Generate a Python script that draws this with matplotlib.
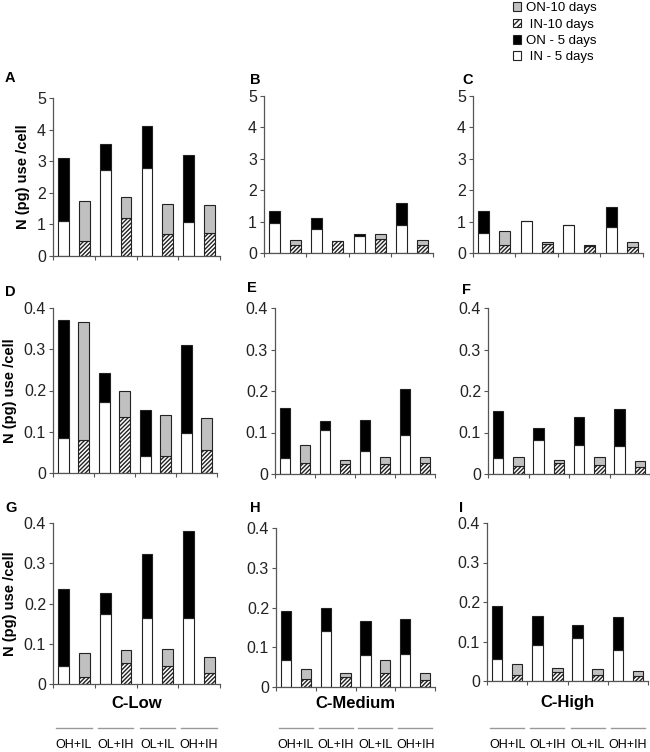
import matplotlib
matplotlib.use("Agg")
import matplotlib.pyplot as plt
import matplotlib.transforms as mtransforms
from matplotlib.patches import Patch
import numpy as np

plt.rcParams['font.family'] = ['Liberation Sans', 'DejaVu Sans']
plt.rcParams['hatch.linewidth'] = 1.0

groups = ["OH+IL", "OL+IH", "OL+IL", "OH+IH"]
columns = ["C-Low", "C-Medium", "C-High"]
panel_labels = ["A", "B", "C", "D", "E", "F", "G", "H", "I"]

# Segment heights per panel: IN-5 (bottom) / ON-5 (top), IN-10 (bottom) / ON-10 (top)
A_in5 = [1.11, 2.71, 2.77, 1.08]; A_on5 = [1.98, 0.82, 1.33, 2.12]
A_in10 = [0.48, 1.19, 0.70, 0.74]; A_on10 = [1.27, 0.67, 0.94, 0.88]
B_in5 = [0.94, 0.77, 0.53, 0.90]; B_on5 = [0.41, 0.33, 0.09, 0.68]
B_in10 = [0.26, 0.37, 0.44, 0.26]; B_on10 = [0.15, 0.02, 0.16, 0.15]
C_in5 = [0.63, 1.02, 0.88, 0.84]; C_on5 = [0.71, 0.0, 0.0, 0.61]
C_in10 = [0.27, 0.29, 0.21, 0.19]; C_on10 = [0.43, 0.05, 0.03, 0.17]
D_in5 = [0.086, 0.171, 0.042, 0.098]; D_on5 = [0.284, 0.071, 0.110, 0.212]
D_in10 = [0.079, 0.136, 0.042, 0.056]; D_on10 = [0.288, 0.062, 0.098, 0.077]
E_in5 = [0.038, 0.107, 0.055, 0.095]; E_on5 = [0.122, 0.020, 0.076, 0.110]
E_in10 = [0.026, 0.025, 0.024, 0.026]; E_on10 = [0.045, 0.008, 0.018, 0.016]
F_in5 = [0.038, 0.081, 0.071, 0.067]; F_on5 = [0.113, 0.031, 0.066, 0.090]
F_in10 = [0.020, 0.026, 0.022, 0.018]; F_on10 = [0.020, 0.008, 0.018, 0.013]
G_in5 = [0.044, 0.175, 0.163, 0.163]; G_on5 = [0.193, 0.052, 0.161, 0.218]
G_in10 = [0.017, 0.053, 0.044, 0.027]; G_on10 = [0.061, 0.031, 0.044, 0.039]
H_in5 = [0.069, 0.140, 0.080, 0.082]; H_on5 = [0.121, 0.058, 0.085, 0.090]
H_in10 = [0.020, 0.025, 0.035, 0.017]; H_on10 = [0.026, 0.009, 0.032, 0.017]
I_in5 = [0.056, 0.090, 0.108, 0.079]; I_on5 = [0.133, 0.074, 0.035, 0.083]
I_in10 = [0.015, 0.024, 0.014, 0.013]; I_on10 = [0.027, 0.009, 0.016, 0.012]

panels = [
    (A_in5, A_on5, A_in10, A_on10), (B_in5, B_on5, B_in10, B_on10), (C_in5, C_on5, C_in10, C_on10),
    (D_in5, D_on5, D_in10, D_on10), (E_in5, E_on5, E_in10, E_on10), (F_in5, F_on5, F_in10, F_on10),
    (G_in5, G_on5, G_in10, G_on10), (H_in5, H_on5, H_in10, H_on10), (I_in5, I_on5, I_in10, I_on10),
]

W, H = 650, 752
def pos(l, r, b, t):
    return [l / W, (H - b) / H, (r - l) / W, (b - t) / H]

positions = [
    pos(53, 220, 256, 98), pos(264, 433, 253, 96), pos(473, 643, 253, 96),
    pos(53, 217, 473, 308), pos(275, 435, 474, 308), pos(488, 650, 474, 308),
    pos(53, 220, 684, 523), pos(276, 435, 687, 528), pos(487, 648, 681, 523),
]
label_xy = [(5, 78), (250, 80), (462, 80), (5, 292), (247, 288), (462, 290),
            (5, 508), (250, 508), (459, 508)]

GRAY = '#c0c0c0'
EDGE = '#222222'
fig = plt.figure(figsize=(6.5, 7.52), dpi=100)

for i, (in5, on5, in10, on10) in enumerate(panels):
    ax = fig.add_axes(positions[i])
    n = len(groups)
    x5 = np.arange(n) * 2
    x10 = x5 + 1
    bw = 0.52
    ax.bar(x5, in5, bw, color='white', edgecolor=EDGE, linewidth=0.8)
    ax.bar(x5, on5, bw, bottom=in5, color='black', edgecolor=EDGE, linewidth=0.8)
    ax.bar(x10, in10, bw, color='white', edgecolor=EDGE, linewidth=0.8, hatch='////////')
    ax.bar(x10, on10, bw, bottom=in10, color=GRAY, edgecolor=EDGE, linewidth=0.8)
    ax.set_xlim(-0.5, 2 * n - 0.5)
    if i < 3:
        ax.set_ylim(0, 5)
        ax.set_yticks([0, 1, 2, 3, 4, 5])
        ax.set_yticklabels(['0', '1', '2', '3', '4', '5'])
    else:
        ax.set_ylim(0, 0.4)
        ax.set_yticks([0, 0.1, 0.2, 0.3, 0.4])
        ax.set_yticklabels(['0', '0.1', '0.2', '0.3', '0.4'])
    ax.set_xticks(np.arange(n + 1) * 2 - 0.5)
    ax.set_xticklabels([])
    for s in ['top', 'right']:
        ax.spines[s].set_visible(False)
    for s in ['left', 'bottom']:
        ax.spines[s].set_color('#555555')
        ax.spines[s].set_linewidth(0.9)
    ax.tick_params(axis='y', direction='out', length=3, width=0.8, color='#555555',
                   labelsize=11.5, pad=2, labelcolor='#222222')
    ax.tick_params(axis='x', direction='out', length=3, width=0.8, color='#555555')
    fig.text(label_xy[i][0] / W, 1 - label_xy[i][1] / H, panel_labels[i],
             fontsize=10.5, fontweight='bold', ha='left', va='center')
    if i % 3 == 0:
        ax.set_ylabel('N (pg) use /cell', fontsize=10.5, fontweight='bold', labelpad=5)
    if i >= 6:
        col = i - 6
        trans = mtransforms.blended_transform_factory(ax.transData, fig.transFigure)
        ax.text(n - 0.5, 1 - 703 / H, columns[col], transform=trans, fontsize=12,
                fontweight='bold', ha='center', va='center')
        for g in range(n):
            ax.plot([2 * g - 0.35, 2 * g + 1.35], [1 - 728 / H] * 2, transform=trans,
                    color='#999999', lw=1.0, clip_on=False)
            ax.text(2 * g + 0.5, 1 - 745 / H, groups[g], transform=trans, fontsize=9,
                    ha='center', va='center')

handles = [
    Patch(facecolor=GRAY, edgecolor=EDGE, linewidth=0.8, label='ON-10 days'),
    Patch(facecolor='white', edgecolor=EDGE, linewidth=0.8, hatch='//////', label=' IN-10 days'),
    Patch(facecolor='black', edgecolor=EDGE, linewidth=0.8, label='ON - 5 days'),
    Patch(facecolor='white', edgecolor=EDGE, linewidth=0.8, label=' IN - 5 days'),
]
fig.legend(handles=handles, loc='upper left', bbox_to_anchor=(508 / W, 1.004), frameon=False,
           fontsize=9.5, handlelength=0.6, handleheight=0.6, handletextpad=0.35,
           labelspacing=0.33, borderaxespad=0)

fig.savefig('out.png', dpi=100)
